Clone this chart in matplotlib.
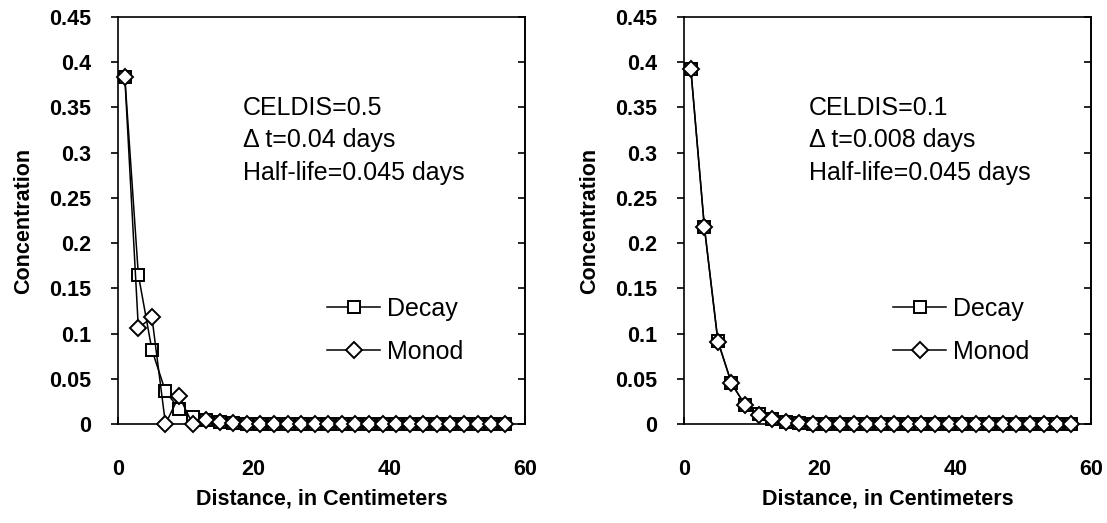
import matplotlib
matplotlib.use("Agg")
import matplotlib.pyplot as plt
from matplotlib.lines import Line2D

plt.rcParams['font.family'] = ['Liberation Sans', 'DejaVu Sans']

distance = list(range(1, 58, 2))  # 1,3,...,57
n = len(distance)

left_decay = [0.384, 0.165, 0.082, 0.036, 0.017, 0.008, 0.004, 0.002, 0.001] + [0.0] * (n - 9)
left_monod = [0.384, 0.106, 0.118, 0.0, 0.031, 0.0, 0.004, 0.002, 0.001] + [0.0] * (n - 9)
right_decay = [0.393, 0.218, 0.092, 0.045, 0.021, 0.011, 0.005, 0.002, 0.001] + [0.0] * (n - 9)
right_monod = [0.393, 0.218, 0.091, 0.045, 0.021, 0.010, 0.005, 0.002, 0.001] + [0.0] * (n - 9)

notes = [["CELDIS=0.5", "\u0394 t=0.04 days", "Half-life=0.045 days"],
         ["CELDIS=0.1", "\u0394 t=0.008 days", "Half-life=0.045 days"]]
series_names = ["Decay", "Monod"]
yticks = [0, 0.05, 0.1, 0.15, 0.2, 0.25, 0.3, 0.35, 0.4, 0.45]
ytick_labels = ["0", "0.05", "0.1", "0.15", "0.2", "0.25", "0.3", "0.35", "0.4", "0.45"]
xticks = [0, 20, 40, 60]
xtick_labels = ["0", "20", "40", "60"]

W, H = 1107, 523
fig = plt.figure(figsize=(W / 100, H / 100), dpi=100)

panels = [(118, left_decay, left_monod, notes[0]),
          (684, right_decay, right_monod, notes[1])]

sq_style = dict(color='black', lw=1.1, marker='s', ms=9, mfc='white',
                mec='black', mew=1.4)
di_style = dict(color='black', lw=1.1, marker='D', ms=8, mfc='white',
                mec='black', mew=1.4)

for x0, dec, mon, note in panels:
    ax = fig.add_axes([x0 / W, 1 - 424 / H, 407 / W, 407 / H])
    ax.plot(distance, dec, zorder=3, clip_on=False, **sq_style)
    ax.plot(distance, mon, zorder=4, clip_on=False, **di_style)
    ax.set_xlim(0, 60)
    ax.set_ylim(0, 0.45)
    ax.set_xticks(xticks)
    ax.set_xticklabels(xtick_labels)
    ax.set_yticks(yticks)
    ax.set_yticklabels(ytick_labels)
    for sp in ax.spines.values():
        sp.set_linewidth(1.2)
    ax.tick_params(axis='y', direction='out', length=5, width=1.2, pad=14,
                   labelsize=15.5)
    ax.tick_params(axis='x', direction='in', length=5, width=1.2, pad=25,
                   labelsize=15.5)
    for lab in ax.get_xticklabels() + ax.get_yticklabels():
        lab.set_fontweight('bold')
    sec = ax.secondary_yaxis('right')
    sec.set_yticks(yticks)
    sec.tick_params(direction='in', length=5, width=1.2, labelright=False)
    sec.spines['right'].set_linewidth(1.2)

    ax.set_xlabel("Distance, in Centimeters", fontsize=15.5, fontweight='bold',
                  labelpad=6)
    ax.set_ylabel("Concentration", fontsize=15.5, fontweight='bold', labelpad=11)

    for i, t in enumerate(note):
        ax.text(125 / 407, (424 - 115 - 32.5 * i) / 407, t, transform=ax.transAxes,
                fontsize=18, ha='left', va='baseline')

    handles = [Line2D([], [], **sq_style), Line2D([], [], **di_style)]
    ax.legend(handles, series_names, loc='center left',
              bbox_to_anchor=(0.49, 0.23), frameon=False, fontsize=18,
              handlelength=2.1, handletextpad=0.3, labelspacing=0.75,
              borderaxespad=0)

fig.savefig("out.png", dpi=100)
